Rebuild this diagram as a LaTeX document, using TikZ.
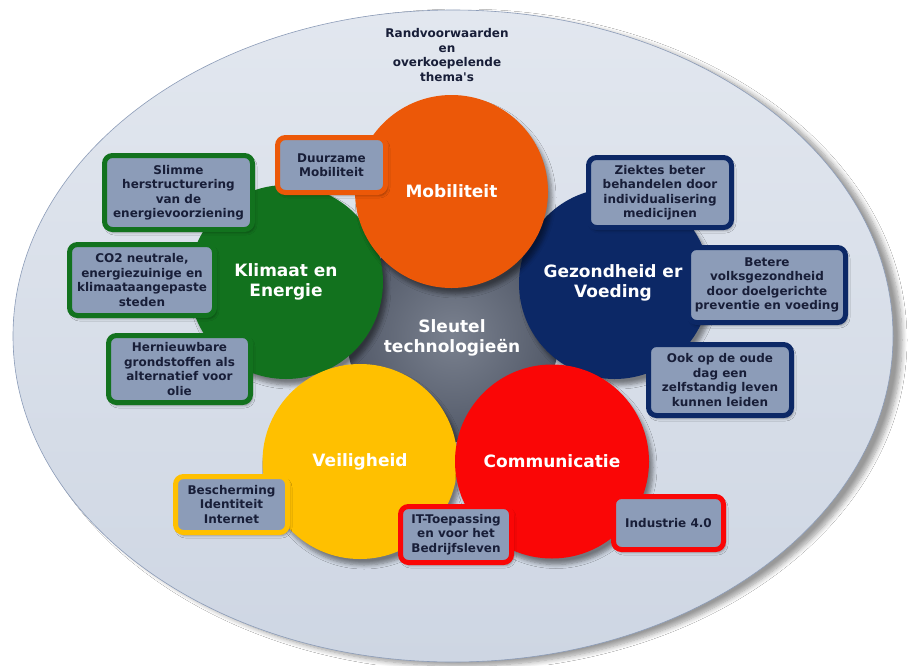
\documentclass[tikz,border=0pt]{standalone}
\usepackage{fontspec}
\setmainfont{DejaVu Sans}
\usetikzlibrary{shadows.blur}
\definecolor{cOrange}{RGB}{236,88,8}
\definecolor{cGreen}{RGB}{18,114,30}
\definecolor{cNavy}{RGB}{12,40,102}
\definecolor{cYellow}{RGB}{255,192,0}
\definecolor{cRed}{RGB}{250,6,6}
\definecolor{cBox}{RGB}{140,156,184}
\definecolor{cText}{RGB}{24,30,56}
\definecolor{cBgTop}{RGB}{226,231,239}
\definecolor{cBgBot}{RGB}{206,214,227}
\definecolor{cBgLine}{RGB}{140,156,184}
\definecolor{cGrayIn}{RGB}{122,129,143}
\definecolor{cGrayOut}{RGB}{82,89,104}
\begin{document}
\begin{tikzpicture}[x=1pt,y=-1pt,
  theme/.style={circle, minimum size=#1, inner sep=0pt, text=white, align=center,
    font=\fontsize{17}{20}\selectfont\bfseries,
    blur shadow={shadow xshift=4pt, shadow yshift=-6pt, shadow opacity=45, shadow blur steps=6, shadow blur radius=4pt}},
  boxstyle/.style={draw=#1, line width=5pt, fill=cBox, rounded corners=8pt, inner sep=0pt,
    align=center, text=cText, font=\fontsize{12}{14.5}\selectfont\bfseries,
    blur shadow={shadow xshift=2pt, shadow yshift=-3pt, shadow opacity=35, shadow blur steps=4, shadow blur radius=2.5pt}},
  plain/.style={align=center, inner sep=0pt}
]
\useasboundingbox (0,0) rectangle (913,665);
\fill[white] (0,0) rectangle (913,665);
% outer ellipse
\path[top color=cBgTop, bottom color=cBgBot, draw=cBgLine, line width=0.6pt,
  blur shadow={shadow xshift=9pt, shadow yshift=-4pt, shadow opacity=40, shadow blur steps=8, shadow blur radius=5pt}]
  (453,336) ellipse [x radius=440pt, y radius=326pt];
\node[plain, text=cText, font=\fontsize{12}{14.5}\selectfont\bfseries] (rand) at (447,55)
  {Randvoorwaarden\\en\\overkoepelende\\thema\textquotesingle s};
% central gray
\node[circle, minimum size=212pt, inner sep=0pt, inner color=cGrayIn, outer color=cGrayOut] (core) at (453,336) {};
% theme circles
\node[theme=194pt, fill=cGreen] (klimaat) at (286,282) {Klimaat en\\Energie};
\node[theme=191pt, fill=cNavy] (gezond) at (614.5,283.5) {};
\node[theme=193pt, fill=cOrange] (mobil) at (451.5,191.5) {Mobiliteit};
\node[theme=195pt, fill=cYellow] (veilig) at (360,461.5) {Veiligheid};
\node[theme=194pt, fill=cRed] (comm) at (552,461.5) {Communicatie};
\node[plain, text=white, font=\fontsize{17}{20}\selectfont\bfseries] (gezondlbl) at (613,283) {Gezondheid er\\Voeding};
\node[plain, text=white, font=\fontsize{17}{20.5}\selectfont\bfseries] (sleutel) at (452,338) {Sleutel\\technologieën};
% boxes
\node[boxstyle=cOrange, minimum width=108pt, minimum height=55pt] (duurzaam) at (331.5,165) {Duurzame\\Mobiliteit};
\node[boxstyle=cGreen, minimum width=148pt, minimum height=74pt] (slimme) at (178.5,192.5) {Slimme\\herstructurering\\van de\\energievoorziening};
\node[boxstyle=cGreen, minimum width=145pt, minimum height=71pt] (co2) at (142,280) {CO2 neutrale,\\energiezuinige en\\klimaataangepaste\\steden};
\node[boxstyle=cGreen, minimum width=142pt, minimum height=67pt] (hernieuw) at (179.5,369) {Hernieuwbare\\grondstoffen als\\alternatief voor\\olie};
\node[boxstyle=cYellow, minimum width=112pt, minimum height=56pt] (bescherm) at (231.5,504.5) {Bescherming\\Identiteit\\Internet};
\node[boxstyle=cRed, minimum width=111pt, minimum height=56pt] (itbox) at (456,534.5) {IT-Toepassing\\en voor het\\Bedrijfsleven};
\node[boxstyle=cRed, minimum width=110pt, minimum height=53pt] (industrie) at (668.5,523) {Industrie 4.0};
\node[boxstyle=cNavy, minimum width=143pt, minimum height=70pt] (ziektes) at (660,192.5) {Ziektes beter\\behandelen door\\individualisering\\medicijnen};
\node[boxstyle=cNavy, minimum width=157pt, minimum height=75pt] (betere) at (767,285) {Betere\\volksgezondheid\\door doelgerichte\\preventie en voeding};
\node[boxstyle=cNavy, minimum width=143pt, minimum height=71pt] (ook) at (720,380) {Ook op de oude\\dag een\\zelfstandig leven\\kunnen leiden};
\end{tikzpicture}
\end{document}
